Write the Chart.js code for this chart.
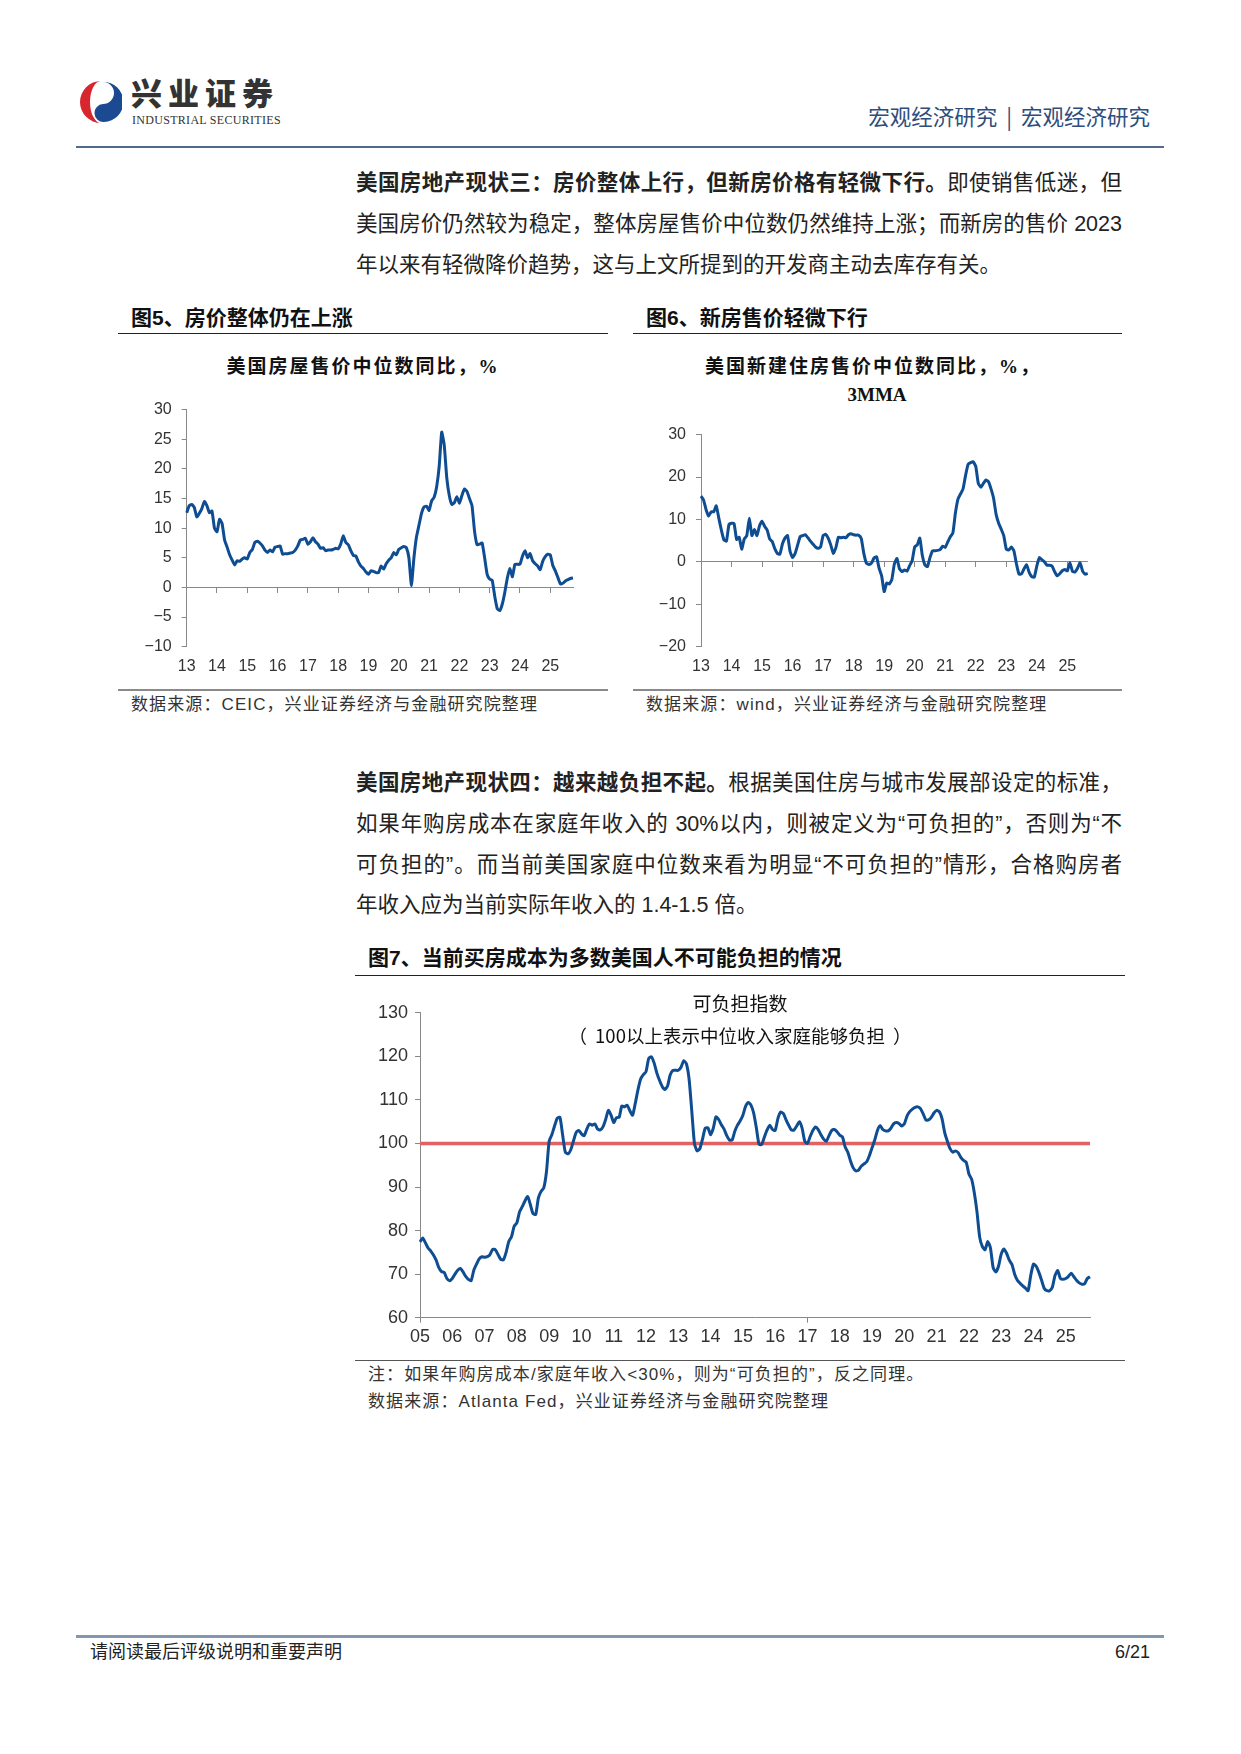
<!DOCTYPE html>
<html lang="zh-CN">
<head>
<meta charset="utf-8">
<title>美国房地产现状</title>
<script src="https://cdn.jsdelivr.net/npm/chart.js@4.4.0/dist/chart.umd.min.js"></script>
<style>
  html, body { margin: 0; padding: 0; background: #fff; }
  body {
    width: 1241px; height: 1754px; position: relative; overflow: hidden;
    font-family: "Liberation Sans", "Noto Sans CJK SC", sans-serif; color: #222;
  }
  .abs { position: absolute; white-space: nowrap; }
  .cjk { font-family: "Noto Sans CJK SC", sans-serif; }
  .line { position: absolute; left: 356px; width: 766px; height: 40px; line-height: 40px; font-size: 21.5px; white-space: nowrap; }
  .just { text-align: justify; text-align-last: justify; }
  .figTitle { font-family: "Liberation Sans", "Noto Sans CJK SC", sans-serif; font-weight: bold; font-size: 21px; height: 30px; line-height: 30px; color: #111; }
  .chartTitle { font-weight: bold; font-size: 19px; letter-spacing: 2px; height: 28px; line-height: 28px; color: #111; transform: translateX(-50%); }
  .serifB { font-family: "Liberation Serif", serif; font-weight: bold; }
  .src { font-size: 17px; letter-spacing: 1.1px; height: 24px; line-height: 24px; color: #333; }
  .rule { position: absolute; height: 0; }
  .box { position: absolute; }
</style>
</head>
<body>

<!-- 页眉 -->
<svg class="abs" style="left:80px;top:80px" width="42" height="44" viewBox="0 0 42 44">
  <path d="M21 1 A21 21 0 0 0 21 43 A11 21 0 0 1 21 1 Z" fill="#d7262e"/>
  <path d="M23 2 A20 20 0 0 1 24 42 A9 9 0 0 1 23 24 A9 9 0 0 0 23 2 Z" fill="#1c4a92"/>
</svg>
<div class="abs cjk" style="left:131px;top:74px;font-size:31px;font-weight:900;letter-spacing:6px;line-height:36px;color:#333">兴业证券</div>
<div class="abs" style="left:132px;top:113px;font-family:'Liberation Serif',serif;font-size:12px;letter-spacing:0.3px;line-height:14px;color:#333">INDUSTRIAL SECURITIES</div>
<div class="abs cjk" style="right:91px;top:102px;font-size:21.5px;line-height:28px;color:#2e4d7b">宏观经济研究<span style="margin:0 9px">|</span>宏观经济研究</div>
<div class="rule" style="left:76px;width:1088px;top:146px;border-top:2px solid #4f6a8a"></div>

<!-- 正文一 -->
<div class="line just" style="top:163px"><b>美国房地产现状三：房价整体上行，但新房价格有轻微下行。</b>即使销售低迷，但</div>
<div class="line just" style="top:204px">美国房价仍然较为稳定，整体房屋售价中位数仍然维持上涨；而新房的售价 2023</div>
<div class="line" style="top:245px">年以来有轻微降价趋势，这与上文所提到的开发商主动去库存有关。</div>

<!-- 图5 / 图6 -->
<div class="abs figTitle" style="left:131px;top:303px">图5、房价整体仍在上涨</div>
<div class="rule" style="left:118px;width:490px;top:333px;border-top:1px solid #222"></div>
<div class="abs figTitle" style="left:646px;top:303px">图6、新房售价轻微下行</div>
<div class="rule" style="left:633px;width:489px;top:333px;border-top:1px solid #222"></div>

<div class="abs chartTitle" style="left:363px;top:353px">美国房屋售价中位数同比，<span class="serifB">%</span></div>
<div class="abs chartTitle" style="left:873px;top:353px">美国新建住房售价中位数同比，<span class="serifB">%</span>，</div>
<div class="abs chartTitle serifB" style="left:877px;top:381px;letter-spacing:0">3MMA</div>

<div class="box" style="left:110px;top:390px;width:480px;height:295px"><canvas id="chartHomePrice"></canvas></div>
<div class="box" style="left:625px;top:415px;width:480px;height:270px"><canvas id="chartNewHome"></canvas></div>

<div class="rule" style="left:118px;width:490px;top:689px;border-top:2px solid #8a8a8a"></div>
<div class="rule" style="left:633px;width:489px;top:689px;border-top:2px solid #8a8a8a"></div>
<div class="abs src" style="left:131px;top:693px">数据来源：CEIC，兴业证券经济与金融研究院整理</div>
<div class="abs src" style="left:646px;top:693px">数据来源：wind，兴业证券经济与金融研究院整理</div>

<!-- 正文二 -->
<div class="line just" style="top:763px"><b>美国房地产现状四：越来越负担不起。</b>根据美国住房与城市发展部设定的标准，</div>
<div class="line just" style="top:804px">如果年购房成本在家庭年收入的 30%以内，则被定义为“可负担的”，否则为“不</div>
<div class="line just" style="top:845px">可负担的”。而当前美国家庭中位数来看为明显“不可负担的”情形，合格购房者</div>
<div class="line" style="top:885px">年收入应为当前实际年收入的 1.4-1.5 倍。</div>

<!-- 图7 -->
<div class="abs figTitle" style="left:368px;top:943px">图7、当前买房成本为多数美国人不可能负担的情况</div>
<div class="rule" style="left:355px;width:770px;top:975px;border-top:1px solid #222"></div>

<div class="box" style="left:345px;top:995px;width:770px;height:362px"><canvas id="chartAfford"></canvas></div>
<div class="abs" style="left:740px;top:992px;transform:translateX(-50%);font-size:19px;line-height:26px;color:#111">可负担指数</div>
<div class="abs cjk" style="left:740px;top:1022px;transform:translateX(-50%);font-size:18.5px;line-height:26px;color:#111">（<span style="margin-left:8px"></span>100以上表示中位收入家庭能够负担<span style="margin-left:8px"></span>）</div>

<div class="rule" style="left:355px;width:770px;top:1360px;border-top:1px solid #555"></div>
<div class="abs src" style="left:368px;top:1363px">注：如果年购房成本/家庭年收入&lt;30%，则为“可负担的”，反之同理。</div>
<div class="abs src" style="left:368px;top:1390px">数据来源：Atlanta Fed，兴业证券经济与金融研究院整理</div>

<!-- 页脚 -->
<div class="rule" style="left:76px;width:1088px;top:1635px;border-top:3px solid #8497b0"></div>
<div class="abs" style="left:90px;top:1640px;font-size:18px;line-height:24px;color:#222">请阅读最后评级说明和重要声明</div>
<div class="abs" style="right:91px;top:1640px;font-size:18px;line-height:24px;color:#222">6/21</div>

<script>
// 年份刻度标签
const years13to25 = ['13', '14', '15', '16', '17', '18', '19', '20', '21', '22', '23', '24', '25'];
const years05to25 = ['05', '06', '07', '08', '09', '10', '11', '12', '13', '14', '15',
                     '16', '17', '18', '19', '20', '21', '22', '23', '24', '25'];

// 图5：美国房屋售价中位数同比，%（2013.01 起，月度）
const homePriceYoY = [
  12.6, 13.8, 14.0, 13.5, 11.9, 12.5, 13.3, 14.5, 13.8, 12.6, 12.9, 10.0,
  9.4, 11.5, 10.8, 8.0, 6.8, 5.5, 4.6, 3.8, 4.5, 4.4, 4.8, 5.0,
  4.8, 5.9, 6.4, 7.6, 7.8, 7.5, 7.0, 6.3, 5.9, 6.3, 6.0, 6.8,
  6.9, 7.0, 5.6, 5.7, 5.7, 5.8, 5.9, 6.3, 7.0, 8.0, 8.1, 8.3,
  7.3, 7.7, 8.4, 7.7, 7.3, 6.6, 6.7, 6.2, 6.3, 6.3, 6.4, 6.6,
  6.5, 7.3, 8.7, 7.6, 7.2, 6.2, 5.4, 5.3, 4.3, 3.6, 3.2, 2.6,
  2.2, 2.8, 2.7, 2.5, 2.5, 3.6, 3.1, 4.0, 4.6, 5.0, 5.9, 5.5,
  6.4, 6.7, 6.9, 6.7, 5.0, 0.3, 5.0, 8.5, 10.5, 12.5, 13.6, 13.7,
  13.0, 14.6, 15.2, 17.0, 20.4, 26.2, 24.0, 18.5, 15.5, 14.0, 14.3, 15.3,
  14.2, 15.5, 16.6, 16.2, 15.0, 13.8, 9.5, 7.2, 7.3, 7.5, 5.0, 2.2,
  1.4, 1.2, -1.5, -3.6, -3.9, -2.8, -0.8, 1.6, 3.2, 1.8, 3.9, 3.9,
  3.9, 5.3, 6.2, 5.0, 5.7, 4.5, 4.0, 3.6, 3.0, 4.4, 5.2, 5.6,
  5.5, 3.7, 2.8, 1.7, 0.6, 0.7, 1.1, 1.3, 1.5, 1.6
];

// 图6：美国新建住房售价中位数同比，%，3MMA（2013.01 起，月度）
const newHomeYoY = [
  15.5, 14.6, 12.3, 10.8, 11.8, 11.8, 13.2, 10.3, 7.5, 5.2, 4.9, 8.8,
  9.1, 9.0, 5.3, 5.8, 3.0, 5.4, 6.2, 10.3, 6.2, 7.6, 6.2, 8.5,
  9.6, 8.4, 7.5, 5.4, 4.8, 3.1, 2.0, 1.8, 4.2, 5.6, 6.2, 2.5,
  1.0, 2.0, 4.0, 6.0, 6.2, 6.4, 5.7, 4.9, 4.2, 3.5, 3.2, 3.5,
  6.2, 6.5, 5.6, 4.0, 2.0, 3.3, 5.8, 5.7, 5.8, 5.7, 6.4, 6.6,
  6.4, 6.3, 6.3, 5.5, 2.0, -0.3, -0.6, -0.3, 0.9, 1.2, -1.5, -3.3,
  -7.0, -5.0, -5.2, -4.2, -0.5, 0.8, -1.6, -2.3, -1.9, -2.2, -0.9, 0.3,
  3.5, 4.0, 5.6, 1.5, -0.7, -1.1, 1.0, 2.6, 2.6, 2.7, 2.9, 3.7,
  3.4, 4.7, 5.9, 6.8, 11.5, 14.8, 16.0, 17.2, 20.4, 23.0, 23.4, 23.6,
  22.5, 18.5, 17.6, 18.5, 19.3, 18.9, 17.2, 15.0, 11.2, 9.1, 7.7, 6.2,
  3.0, 2.8, 3.5, 2.6, -0.5, -2.9, -2.8, -1.6, -0.7, -2.5, -3.5, -3.6,
  -1.0, 1.0, 0.5, 0.0, -0.8, -0.8, -1.0, -2.3, -3.3, -2.8, -2.1, -1.8,
  -2.1, -0.2, -2.2, -2.4, -1.5, -0.2, -2.2, -2.9, -2.7
];

// 图7：可负担指数（2005.01 起，月度）
const affordIndex = [
  77.4, 78.3, 77.2, 76.0, 75.3, 74.4, 73.2, 71.5, 70.6, 70.4, 69.0, 68.5,
  69.0, 70.0, 70.9, 71.3, 70.5, 69.5, 68.8, 68.5, 70.9, 72.3, 73.5, 74.0,
  73.9, 74.0, 74.5, 75.7, 75.6, 74.5, 73.4, 73.3, 75.0, 77.5, 78.6, 81.0,
  81.8, 84.3, 85.5, 86.8, 87.8, 86.0, 83.9, 83.7, 87.5, 89.0, 89.8, 93.5,
  100.5, 102.0, 104.0, 105.8, 106.0, 102.0, 98.0, 97.6, 98.5, 100.5, 102.5, 103.0,
  102.2, 101.8, 103.3, 104.5, 104.2, 104.5, 103.3, 103.1, 103.8, 105.5, 107.6, 106.5,
  104.8, 105.9, 106.0, 108.6, 108.4, 108.8, 107.5, 106.5, 109.2, 112.3, 114.8, 115.8,
  116.5, 119.5, 119.9, 118.5, 116.2, 114.5, 113.1, 112.4, 113.2, 115.8, 116.8, 116.8,
  116.8, 117.5, 119.0, 118.3, 114.8, 107.5, 100.0, 98.3, 98.8, 101.0, 103.5, 103.6,
  102.0, 103.5, 106.1, 105.5, 104.3, 103.3, 101.8, 100.8, 100.8, 102.8, 104.2, 105.2,
  106.5, 108.5, 109.4, 108.8, 107.0, 103.6, 99.8, 99.8, 101.5, 103.1, 104.2, 103.2,
  103.0, 105.7, 107.2, 106.9, 105.5, 104.2, 103.1, 103.1, 104.0, 105.0, 103.5, 100.5,
  100.0, 101.6, 103.0, 103.8, 103.2, 102.0, 101.0, 100.5, 101.8, 103.0, 103.2, 102.7,
  101.9, 101.5, 99.2, 98.0, 96.0, 94.4, 93.7, 93.9, 94.8, 95.3, 95.8, 97.2,
  99.0, 100.8, 103.0, 104.1, 103.2, 102.9, 102.9, 103.5, 104.5, 104.8, 104.6, 104.0,
  104.5, 106.3, 107.3, 107.9, 108.3, 108.4, 108.0, 106.8, 105.4, 105.4, 106.0, 107.0,
  107.6, 107.3, 105.7, 102.5, 100.5, 98.8, 98.0, 98.3, 97.9, 96.8, 96.1, 95.7,
  93.0, 91.8, 88.7, 84.3, 78.5, 76.3, 75.6, 77.5, 76.0, 71.5, 70.5, 71.8,
  74.6, 75.8, 74.8, 73.2, 72.2, 70.0, 68.6, 67.9, 67.3, 66.8, 66.2, 69.8,
  72.3, 71.8, 70.4, 68.6, 66.7, 66.2, 66.2, 67.0, 69.7, 70.8, 69.0, 68.8,
  69.0, 69.5, 70.2, 69.4, 68.6, 68.0, 67.7, 67.8, 69.0, 69.4
];

// 可负担分界线
const AFFORDABLE_LEVEL = 100;

const LINE_BLUE = '#0f4d92';
const LINE_RED = '#e26262';
const AXIS_GRAY = '#888888';
const TICK_COLOR = '#333333';
const CLEAR = 'rgba(0,0,0,0)';

Chart.defaults.font.family = "'Liberation Sans', Arial, sans-serif";
Chart.defaults.color = TICK_COLOR;

/**
 * 月度类别标签：年份标签 + 月份。
 */
function monthLabels(yearLabels, count) {
    const labels = [];
    for (let i = 0; i < count; i++) {
        labels.push(yearLabels[Math.floor(i / 12)] + '-' + (i % 12 + 1));
    }
    return labels;
}

// 只在每年1月显示年份
function yearTick(yearLabels) {
    return (value, index) => (index % 12 === 0 ? yearLabels[index / 12] : null);
}

// 负号用 "−"
function minusTick(value) {
    return String(value).replace('-', '\u2212');
}

/**
 * 图5/图6：x轴在0处（刻度朝下），年份标签在底部。
 */
function renderZeroAxisChart(canvasId, values, yearLabels, yRange, pad) {
    const labels = monthLabels(yearLabels, values.length);
    const ctx = document.getElementById(canvasId).getContext('2d');

    return new Chart(ctx, {
        type: 'line',
        data: {
            labels: labels,
            datasets: [{
                data: values,
                borderColor: LINE_BLUE,
                borderWidth: 3,
                borderJoinStyle: 'round',
                pointRadius: 0,
                tension: 0.15,
                fill: false
            }]
        },
        options: {
            responsive: true,
            maintainAspectRatio: false,
            animation: false,
            layout: { padding: pad },
            plugins: {
                legend: { display: false },
                tooltip: { enabled: false }
            },
            scales: {
                x: {
                    grid: { display: false, drawTicks: false },
                    border: { display: false },
                    ticks: {
                        autoSkip: false, maxRotation: 0, padding: 10,
                        color: TICK_COLOR, font: { size: 16 },
                        callback: yearTick(yearLabels)
                    },
                    afterFit: scale => { scale.height = 30; }
                },
                xZero: {
                    type: 'category',
                    axis: 'x',
                    position: { y: 0 },
                    grid: {
                        drawOnChartArea: false,
                        tickLength: 5,
                        tickColor: c => (c.index % 12 === 0 ? AXIS_GRAY : CLEAR)
                    },
                    border: { color: AXIS_GRAY, width: 1 },
                    ticks: { display: false, autoSkip: false }
                },
                y: {
                    min: yRange.min,
                    max: yRange.max,
                    ticks: {
                        stepSize: yRange.step, padding: 10,
                        color: TICK_COLOR, font: { size: 16 },
                        callback: minusTick
                    },
                    grid: { drawOnChartArea: false, tickLength: 5, color: AXIS_GRAY },
                    border: { color: AXIS_GRAY, width: 1 },
                    afterFit: scale => { scale.width = 70; }
                }
            }
        }
    });
}

/**
 * 图7：可负担指数 + 100 分界线。
 */
function renderAffordChart() {
    const labels = monthLabels(years05to25, affordIndex.length);
    const ctx = document.getElementById('chartAfford').getContext('2d');
    const narrow = "'Liberation Sans Narrow', 'Liberation Sans', Arial, sans-serif";

    return new Chart(ctx, {
        type: 'line',
        data: {
            labels: labels,
            datasets: [{
                data: affordIndex,
                borderColor: LINE_BLUE,
                borderWidth: 3,
                borderJoinStyle: 'round',
                pointRadius: 0,
                tension: 0.2,
                fill: false,
                order: 1
            }, {
                data: [
                    { x: labels[0], y: AFFORDABLE_LEVEL },
                    { x: labels[labels.length - 1], y: AFFORDABLE_LEVEL }
                ],
                borderColor: LINE_RED,
                borderWidth: 3.5,
                pointRadius: 0,
                fill: false,
                order: 2
            }]
        },
        options: {
            responsive: true,
            maintainAspectRatio: false,
            animation: false,
            layout: { padding: { left: 5, right: 25, top: 17.7, bottom: 9.3 } },
            plugins: {
                legend: { display: false },
                tooltip: { enabled: false }
            },
            scales: {
                x: {
                    grid: {
                        drawOnChartArea: false,
                        tickLength: 5,
                        tickColor: c => (c.index % 12 === 0 ? AXIS_GRAY : CLEAR)
                    },
                    border: { color: AXIS_GRAY, width: 1 },
                    ticks: {
                        autoSkip: false, maxRotation: 0, padding: 4,
                        color: TICK_COLOR, font: { size: 18, family: narrow },
                        callback: yearTick(years05to25)
                    },
                    afterFit: scale => { scale.height = 30; }
                },
                y: {
                    min: 60,
                    max: 130,
                    ticks: {
                        stepSize: 10, padding: 7,
                        color: TICK_COLOR, font: { size: 18, family: narrow }
                    },
                    grid: { drawOnChartArea: false, tickLength: 5, color: AXIS_GRAY },
                    border: { color: AXIS_GRAY, width: 1 },
                    afterFit: scale => { scale.width = 70; }
                }
            }
        }
    });
}

renderZeroAxisChart('chartHomePrice', homePriceYoY, years13to25,
    { min: -10, max: 30, step: 5 },
    { left: 6.7, right: 17, top: 17, bottom: 8.3 });

renderZeroAxisChart('chartNewHome', newHomeYoY, years13to25,
    { min: -20, max: 30, step: 10 },
    { left: 6, right: 17.3, top: 16.7, bottom: 8.3 });

renderAffordChart();
</script>
</body>
</html>
